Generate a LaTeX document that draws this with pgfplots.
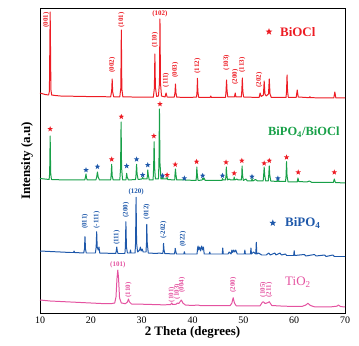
\documentclass[border=0pt]{standalone}
\usepackage{pgfplots}
\pgfplotsset{compat=1.18}
\usepackage{fontspec}
\setmainfont{Liberation Serif}
\definecolor{cred}{RGB}{237,28,36}
\definecolor{cgreen}{RGB}{24,160,72}
\definecolor{cblue}{RGB}{30,88,170}
\definecolor{cpink}{RGB}{228,82,160}
\pgfdeclareplotmark{fstar}{%
  \pgfpathmoveto{\pgfpointpolar{90}{\pgfplotmarksize}}%
  \pgfpathlineto{\pgfpointpolar{126}{0.42\pgfplotmarksize}}%
  \pgfpathlineto{\pgfpointpolar{162}{\pgfplotmarksize}}%
  \pgfpathlineto{\pgfpointpolar{198}{0.42\pgfplotmarksize}}%
  \pgfpathlineto{\pgfpointpolar{234}{\pgfplotmarksize}}%
  \pgfpathlineto{\pgfpointpolar{270}{0.42\pgfplotmarksize}}%
  \pgfpathlineto{\pgfpointpolar{306}{\pgfplotmarksize}}%
  \pgfpathlineto{\pgfpointpolar{342}{0.42\pgfplotmarksize}}%
  \pgfpathlineto{\pgfpointpolar{18}{\pgfplotmarksize}}%
  \pgfpathlineto{\pgfpointpolar{54}{0.42\pgfplotmarksize}}%
  \pgfpathclose\pgfusepathqfill}
\tikzset{pl/.style={font=\fontsize{7}{8}\selectfont\bfseries,inner sep=0pt},
 rl/.style={pl,rotate=90}}
\begin{document}
\begin{tikzpicture}
\begin{axis}[
  scale only axis, width=305bp, height=304bp,
  xmin=10, xmax=70, ymin=0, ymax=304,
  xtick={10,20,...,70}, ytick=\empty,
  major tick length=0pt,
  axis line style={line width=1pt},
  /pgf/number format/assume math mode=true,
  tick label style={font=\fontsize{10}{11}\selectfont},
  xlabel={\textbf{2 Theta (degrees)}},
  ylabel={\textbf{Intensity (a.u)}},
  label style={font=\fontsize{13}{14}\selectfont},
  xlabel style={at={(axis description cs:0.5,-0.0625)},anchor=center},
  ylabel style={at={(axis description cs:-0.0426,0.5)},anchor=center},
  clip=false,
  every axis plot/.append style={line width=1pt, line join=round},
]
% BiOCl
\addplot[cred, mark=none] coordinates {
(10,220)(11,218.5)(11.7,218)(11.85,222)(12.0,301)(12.15,223)(12.3,218)(13,217.5)(14,217)(16,216.8)(18,216.6)(20,216.4)(22,216.3)
(23.9,216.2)(24.1,222)(24.2,234)(24.3,221)(24.5,216.2)(25.7,216.2)(25.9,225)(26.0,283)(26.1,224)(26.3,216)(28,216)(30,215.8)
(32.3,215.8)(32.5,225)(32.6,259)(32.7,226)(32.95,216.5)(33.3,217)(33.5,230)(33.6,294)(33.7,230)(33.9,217)(34.6,216)(34.8,220)(35.0,216)
(36.4,215.8)(36.55,220)(36.65,229)(36.75,220)(36.9,215.8)(38,215.7)(40,215.7)(40.8,216)(40.9,222)(40.97,234.7)(41.05,222)(41.2,215.7)
(43.5,215.7)(43.6,217)(43.7,215.7)(46.5,215.7)(46.6,222)(46.7,233)(46.8,222)(46.95,216)(48.25,216)(48.4,220)(48.55,216)
(49.6,216)(49.7,222)(49.8,235)(49.9,222)(50.05,216)(53.1,215.5)(53.3,220)(53.5,216.5)(53.95,218)(54.1,232)(54.25,219)(54.5,217)
(54.95,219)(55.1,234)(55.25,219)(55.5,215.5)(58.4,215.5)(58.5,222)(58.6,238)(58.7,222)(58.85,215.5)(60.4,215.5)(60.6,223)(60.8,216)
(63,215.3)(63.1,216.3)(63.2,215.3)(67.8,215)(68.0,221)(68.2,215)(70,215)};
% BiPO4/BiOCl
\addplot[cgreen, mark=none] coordinates {
(10,134.5)(11.8,133.5)(11.9,140)(12.0,177)(12.1,140)(12.25,133.5)(14,133.2)(16,133)(18.8,133)(18.95,136)(19.05,139)(19.15,135)(19.3,133)
(21.0,133)(21.15,136)(21.3,141)(21.45,136)(21.7,133)(23.9,133)(24.0,138)(24.1,148.7)(24.2,137)(24.4,133)(25.7,133)(25.85,145)(25.95,191)
(26.05,145)(26.25,133)(26.9,133)(27.0,137)(27.05,139.7)(27.15,136)(27.4,133)(28.8,133.5)(28.9,139)(29.0,148.7)(29.1,139)(29.3,133.5)
(30.05,134)(30.2,135.7)(30.35,134)(31.05,134)(31.15,138)(31.2,143)(31.3,138)(31.5,133)(32.25,133)(32.35,145)(32.45,171.3)(32.55,145)
(32.7,134)(33.3,134)(33.4,150)(33.5,204)(33.6,150)(33.8,134)(34.0,134)(34.1,136)(34.2,134)(34.9,134)(35.0,136)(35.1,133.5)(36.5,133)
(36.55,138)(36.65,144)(36.75,138)(36.9,133)(38.3,133)(38.4,135)(38.5,133)(40.7,132.5)(40.8,138)(40.85,146)(40.95,138)(41.1,132.5)
(41.9,133)(42.0,135)(42.1,133.5)(42.3,134.5)(42.5,132.5)(45.8,132.5)(45.9,134.5)(46.0,133)(46.5,133)(46.6,138)(46.65,146)(46.75,138)
(46.9,133)(47.2,134)(47.5,133)(48.1,133)(48.2,136)(48.3,133)(48.7,134)(49.0,133)(49.6,133)(49.7,138)(49.75,147)(49.85,138)(50.0,132.5)
(50.5,134)(50.8,132)(51.6,132)(51.7,134.5)(51.85,132)(52.4,133.5)(52.8,132)(53.9,132)(54.0,138)(54.1,146)(54.2,138)(54.4,132)
(54.9,132)(55.0,138)(55.1,147)(55.2,138)(55.4,132)(56.7,131.5)(56.8,133.5)(56.95,131.5)(58.3,131.5)(58.4,137)(58.5,151.3)(58.6,137)
(58.8,131)(60.6,131)(60.75,135)(60.9,131.5)(62.5,131)(63.0,132)(63.5,130.5)(67.7,130.5)(67.9,134)(68.1,130.5)(70,130)};
% BiPO4
\addplot[cblue, mark=none] coordinates {
(10,62)(12,61.5)(14,61)(16,60.5)(16.6,60.5)(16.7,62)(16.8,60.5)(18.6,60)(18.75,64)(18.85,76.3)(18.95,64)(19.1,60)(20.9,60)(21.05,66)
(21.15,81.3)(21.25,66)(21.45,63)(21.6,66)(21.75,60)(24.9,59.5)(25.0,62)(25.1,66)(25.2,62)(25.35,59.5)(26.7,59.5)(26.8,66)(26.9,91.3)
(27.0,66)(27.2,60)(27.7,60)(27.8,63)(27.9,60)(28.7,60)(28.8,70)(28.9,115.7)(29.0,70)(29.2,61)(29.6,63)(29.75,66)(29.9,62)(30.1,64)
(30.3,61)(30.85,61)(30.95,70)(31.0,88.7)(31.1,70)(31.3,60)(33.0,59.5)(33.3,60)(34.15,59.5)(34.25,63)(34.3,69.7)(34.4,63)(34.55,59.5)
(36.45,59)(36.55,62)(36.6,64.7)(36.7,62)(36.85,59)(38.3,59)(38.4,61.3)(38.5,59)(40.9,59)(41.0,65)(41.1,67)(41.2,63)(41.4,66)(41.6,62)
(41.8,67)(42.0,63)(42.15,66)(42.3,59)(43.3,59)(43.4,61)(43.5,59)(45.85,59)(45.95,65)(46.05,59)(47.0,59)(47.2,61)(47.6,59)(47.75,63)
(47.9,60.5)(48.1,63)(48.3,61)(48.5,63)(48.8,59)(50.2,59)(50.3,63)(50.4,59)(51.4,59)(51.5,65)(51.6,59)(52.0,61)(52.45,59)(52.55,70.7)
(52.65,59)(53.0,60)(53.6,58)(54.5,58)(55.0,60)(55.3,58)(56.2,60)(56.4,58)(57.2,60)(57.5,58)(58.3,59)(58.5,57.5)(59.9,57.5)(60.0,62.3)
(60.1,57.5)(62.0,58.5)(62.3,57)(64.0,58.5)(64.3,57)(66.0,58)(66.3,56.5)(67.6,58)(67.9,56.5)(70,56.5)};
% TiO2
\addplot[cpink, mark=none] coordinates {
(10,13)(12,12)(14,11.5)(16,11)(18,10.5)(20,10)(22,9.5)(24,9.3)(24.7,10)(24.95,16)(25.15,35)(25.3,43)(25.45,35)(25.65,15)(26,10)
(26.8,9.3)(27.2,11)(27.4,14)(27.6,11)(28,9)(30,8.8)(32,8.5)(34,8.2)(35.7,8.3)(35.9,10)(36.1,8.5)(36.8,8.8)(37.0,10)(37.3,9.5)
(37.8,13)(38.1,10)(38.6,8)(40,7.5)(41.0,8)(41.5,7.5)(44,7.3)(47.4,7.3)(47.75,10)(48.0,15.3)(48.25,10)(48.6,7.2)(52,7)(53.3,7.2)
(53.7,10.5)(53.9,11.3)(54.3,9.5)(54.9,10.5)(55.1,11.3)(55.6,7.5)(58,6.8)(61.5,6.5)(62.3,8)(62.7,9.7)(63.2,7.5)(64,6.2)(67,6)
(68.4,6.8)(68.7,8)(69.1,6.5)(70,6)};
% stars on composite pattern
\addplot[only marks, mark=fstar, mark size=2.9pt, cred] coordinates {
(12.0,184)(24.1,153.7)(26.0,196.3)(32.4,177)(33.6,209)(35.0,138)(36.6,148.5)(40.8,151.3)(46.6,150.7)(48.2,139.7)
(49.7,152.3)(54.1,149.7)(55.1,152.3)(58.5,155.7)(60.8,140.7)(67.9,140.7)};
\addplot[only marks, mark=fstar, mark size=2.9pt, cblue] coordinates {
(19.05,143)(21.3,146.3)(27.05,147)(29.0,153.7)(30.2,138)(31.2,148)(34.1,137.3)(38.4,134.7)(42.0,137.3)(45.9,137.3)(51.7,136.3)(56.8,134.7)};
% legend-like stars
\addplot[only marks, mark=fstar, mark size=3.6pt, cred] coordinates {(55.05,281.3)};
\addplot[only marks, mark=fstar, mark size=3.6pt, cblue] coordinates {(55.8,90)};
% sample names
\node[anchor=west, text=cred, font=\fontsize{13}{14}\selectfont\bfseries, inner sep=0pt] at (axis cs:57.2,281) {BiOCl};
\node[anchor=west, text=cgreen, font=\fontsize{12.5}{14}\selectfont\bfseries, inner sep=0pt] at (axis cs:54.85,181) {BiPO\textsubscript{4}/BiOCl};
\node[anchor=west, text=cblue, font=\fontsize{13}{14}\selectfont\bfseries, inner sep=0pt] at (axis cs:58.2,90) {BiPO\textsubscript{4}};
\node[anchor=west, text=cpink, font=\fontsize{13}{14}\selectfont, inner sep=0pt] at (axis cs:58.2,31) {TiO\textsubscript{2}};
% BiOCl indices
\begin{scope}[text=cred]
\node[rl] at (axis cs:11.2,293) {(001)};
\node[rl] at (axis cs:24.2,248) {(002)};
\node[rl] at (axis cs:26.0,293) {(101)};
\node[rl] at (axis cs:32.6,273) {(110)};
\node[pl] at (axis cs:33.6,299) {(102)};
\node[rl] at (axis cs:34.8,233) {(111)};
\node[rl] at (axis cs:36.6,243) {(003)};
\node[rl] at (axis cs:40.95,247) {(112)};
\node[rl] at (axis cs:46.7,250.5) {(103)};
\node[rl] at (axis cs:48.4,236) {(200)};
\node[rl] at (axis cs:49.8,248) {(113)};
\node[rl] at (axis cs:53.1,233) {(202)};
\end{scope}
% BiPO4 indices
\begin{scope}[text=cblue]
\node[rl] at (axis cs:18.85,91.5) {(011)};
\node[rl] at (axis cs:21.15,93) {(-111)};
\node[rl] at (axis cs:25.1,75.5) {(111)};
\node[rl] at (axis cs:26.9,103) {(200)};
\node[pl] at (axis cs:28.9,121.5) {(120)};
\node[rl] at (axis cs:31.0,101.5) {(012)};
\node[rl] at (axis cs:34.3,83) {(-202)};
\node[rl] at (axis cs:38.1,74) {(022)};
\end{scope}
% TiO2 indices
\begin{scope}[text=cpink]
\node[pl] at (axis cs:25.3,48) {(101)};
\node[rl] at (axis cs:27.4,23) {(110)};
\node[rl] at (axis cs:35.9,18.5) {(101)};
\node[rl] at (axis cs:37.0,21.5) {(103)};
\node[rl] at (axis cs:37.9,28) {(004)};
\node[rl] at (axis cs:48.0,28) {(200)};
\node[rl] at (axis cs:53.9,23.5) {(105)};
\node[rl] at (axis cs:55.1,23) {(211)};
\end{scope}
\end{axis}
\pgfresetboundingbox
\path[use as bounding box] (-40bp,-33bp) rectangle (319bp,313bp);
\end{tikzpicture}
\end{document}
